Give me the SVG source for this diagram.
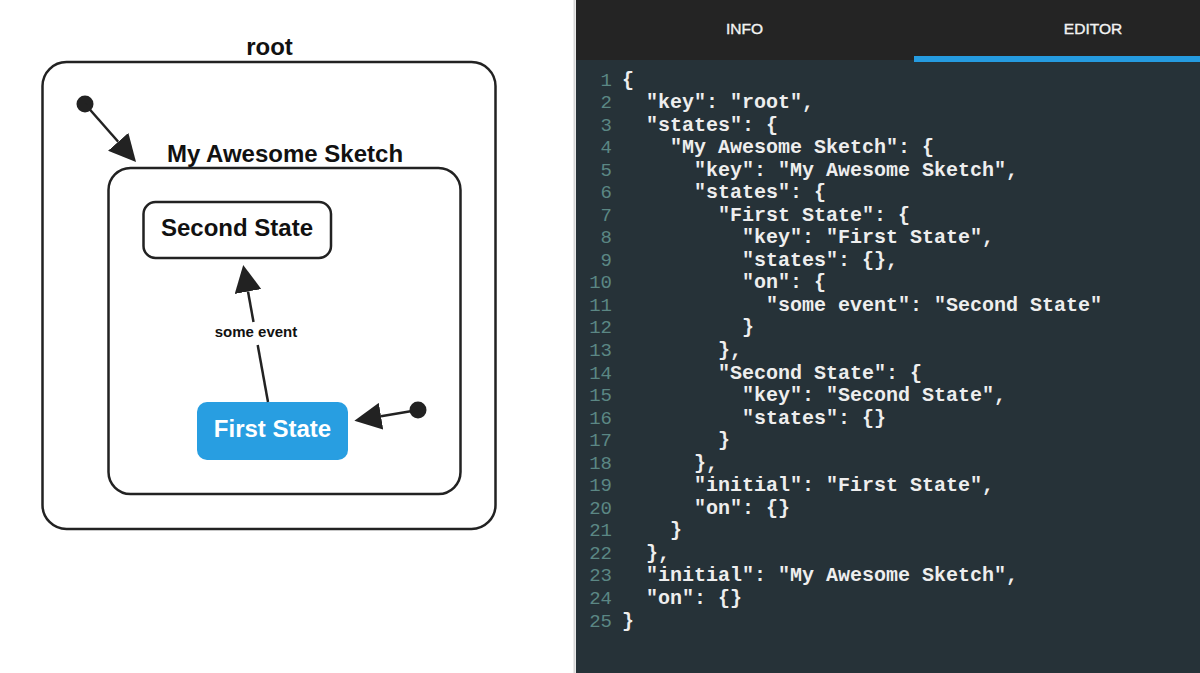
<svg xmlns="http://www.w3.org/2000/svg" width="1200" height="673" viewBox="0 0 1200 673">
  <defs>
    <marker id="arrow" viewBox="0 0 27 27" refX="0" refY="13.5" markerWidth="27" markerHeight="27" markerUnits="userSpaceOnUse" orient="auto">
      <path d="M0,0 L27,13.5 L0,27 z" fill="#222"/>
    </marker>
    <style>
      .box { fill: #fff; stroke: #222; stroke-width: 2.5; }
      .title { font-family: "Liberation Sans", Arial, sans-serif; font-weight: bold; font-size: 24px; fill: #111; text-anchor: middle; }
      .edge { stroke: #222; stroke-width: 2.5; fill: none; }
      .dot { fill: #222; }
      .label { font-family: "Liberation Sans", Arial, sans-serif; font-weight: bold; font-size: 15px; fill: #111; text-anchor: middle; }
      .tab { font-family: "Liberation Sans", Arial, sans-serif; font-size: 15.5px; fill: #f2f2f2; stroke: #f2f2f2; stroke-width: 0.4; text-anchor: middle; }
      .ln { font-family: "Liberation Mono", "Courier New", monospace; font-size: 19px; fill: #5b8784; text-anchor: end; }
      .code { font-family: "Liberation Mono", "Courier New", monospace; font-weight: bold; font-size: 20px; fill: #eeeeee; }
    </style>
  </defs>

  <!-- left panel -->
  <rect x="0" y="0" width="576" height="673" fill="#ffffff"/>
  <line x1="574.5" y1="0" x2="574.5" y2="673" stroke="#d6d6d6" stroke-width="2"/>

  <g id="root">
    <rect class="box" x="42.5" y="62" width="453" height="467" rx="24"/>
    <text class="title" x="269.5" y="55">root</text>
  </g>
  <g id="root-initial">
    <circle class="dot" cx="85" cy="104" r="8.5"/>
  </g>
  <g id="my-awesome-sketch">
    <rect class="box" x="108.5" y="168" width="352" height="326" rx="22"/>
    <text class="title" x="285" y="162">My Awesome Sketch</text>
  </g>
  <g id="second-state">
    <rect class="box" x="143.5" y="202" width="187.5" height="56" rx="12"/>
    <text class="title" x="237" y="236">Second State</text>
  </g>
  <g id="first-state">
    <rect x="197" y="402" width="151" height="58" rx="10" fill="#289ee1"/>
    <text class="title" x="272.5" y="437" style="fill:#ffffff">First State</text>
  </g>
  <g id="sketch-initial">
    <circle class="dot" cx="418" cy="410" r="8.5"/>
  </g>

  <g id="connectors">
    <line class="edge" x1="85" y1="104" x2="118.2" y2="141.8" marker-end="url(#arrow)"/>
    <line class="edge" x1="268" y1="402" x2="257.7" y2="345"/>
    <line class="edge" x1="253.5" y1="322" x2="248" y2="291.5" marker-end="url(#arrow)"/>
    <text class="label" x="256" y="337">some event</text>
    <line class="edge" x1="418" y1="410" x2="381" y2="416.2" marker-end="url(#arrow)"/>
  </g>

  <!-- right panel -->
  <rect x="576" y="0" width="624" height="60" fill="#242424"/>
  <rect x="576" y="60" width="624" height="613" fill="#263238"/>
  <rect x="914" y="56" width="286" height="6" fill="#259be0"/>
  <text class="tab" x="744.5" y="34">INFO</text>
  <text class="tab" x="1093" y="34">EDITOR</text>

  <g id="line-numbers">
    <text class="ln" x="612" y="85.5">1</text>
    <text class="ln" x="612" y="108">2</text>
    <text class="ln" x="612" y="130.6">3</text>
    <text class="ln" x="612" y="153.1">4</text>
    <text class="ln" x="612" y="175.7">5</text>
    <text class="ln" x="612" y="198.2">6</text>
    <text class="ln" x="612" y="220.7">7</text>
    <text class="ln" x="612" y="243.3">8</text>
    <text class="ln" x="612" y="265.8">9</text>
    <text class="ln" x="612" y="288.4">10</text>
    <text class="ln" x="612" y="310.9">11</text>
    <text class="ln" x="612" y="333.4">12</text>
    <text class="ln" x="612" y="356">13</text>
    <text class="ln" x="612" y="378.5">14</text>
    <text class="ln" x="612" y="401.1">15</text>
    <text class="ln" x="612" y="423.6">16</text>
    <text class="ln" x="612" y="446.1">17</text>
    <text class="ln" x="612" y="468.7">18</text>
    <text class="ln" x="612" y="491.2">19</text>
    <text class="ln" x="612" y="513.8">20</text>
    <text class="ln" x="612" y="536.3">21</text>
    <text class="ln" x="612" y="558.8">22</text>
    <text class="ln" x="612" y="581.4">23</text>
    <text class="ln" x="612" y="603.9">24</text>
    <text class="ln" x="612" y="626.5">25</text>
  </g>

  <g id="code">
    <text class="code" x="622" y="85.5">{</text>
    <text class="code" x="646" y="108">"key": "root",</text>
    <text class="code" x="646" y="130.6">"states": {</text>
    <text class="code" x="670" y="153.1">"My Awesome Sketch": {</text>
    <text class="code" x="694" y="175.7">"key": "My Awesome Sketch",</text>
    <text class="code" x="694" y="198.2">"states": {</text>
    <text class="code" x="718" y="220.7">"First State": {</text>
    <text class="code" x="742" y="243.3">"key": "First State",</text>
    <text class="code" x="742" y="265.8">"states": {},</text>
    <text class="code" x="742" y="288.4">"on": {</text>
    <text class="code" x="766" y="310.9">"some event": "Second State"</text>
    <text class="code" x="742" y="333.4">}</text>
    <text class="code" x="718" y="356">},</text>
    <text class="code" x="718" y="378.5">"Second State": {</text>
    <text class="code" x="742" y="401.1">"key": "Second State",</text>
    <text class="code" x="742" y="423.6">"states": {}</text>
    <text class="code" x="718" y="446.1">}</text>
    <text class="code" x="694" y="468.7">},</text>
    <text class="code" x="694" y="491.2">"initial": "First State",</text>
    <text class="code" x="694" y="513.8">"on": {}</text>
    <text class="code" x="670" y="536.3">}</text>
    <text class="code" x="646" y="558.8">},</text>
    <text class="code" x="646" y="581.4">"initial": "My Awesome Sketch",</text>
    <text class="code" x="646" y="603.9">"on": {}</text>
    <text class="code" x="622" y="626.5">}</text>
  </g>
</svg>
